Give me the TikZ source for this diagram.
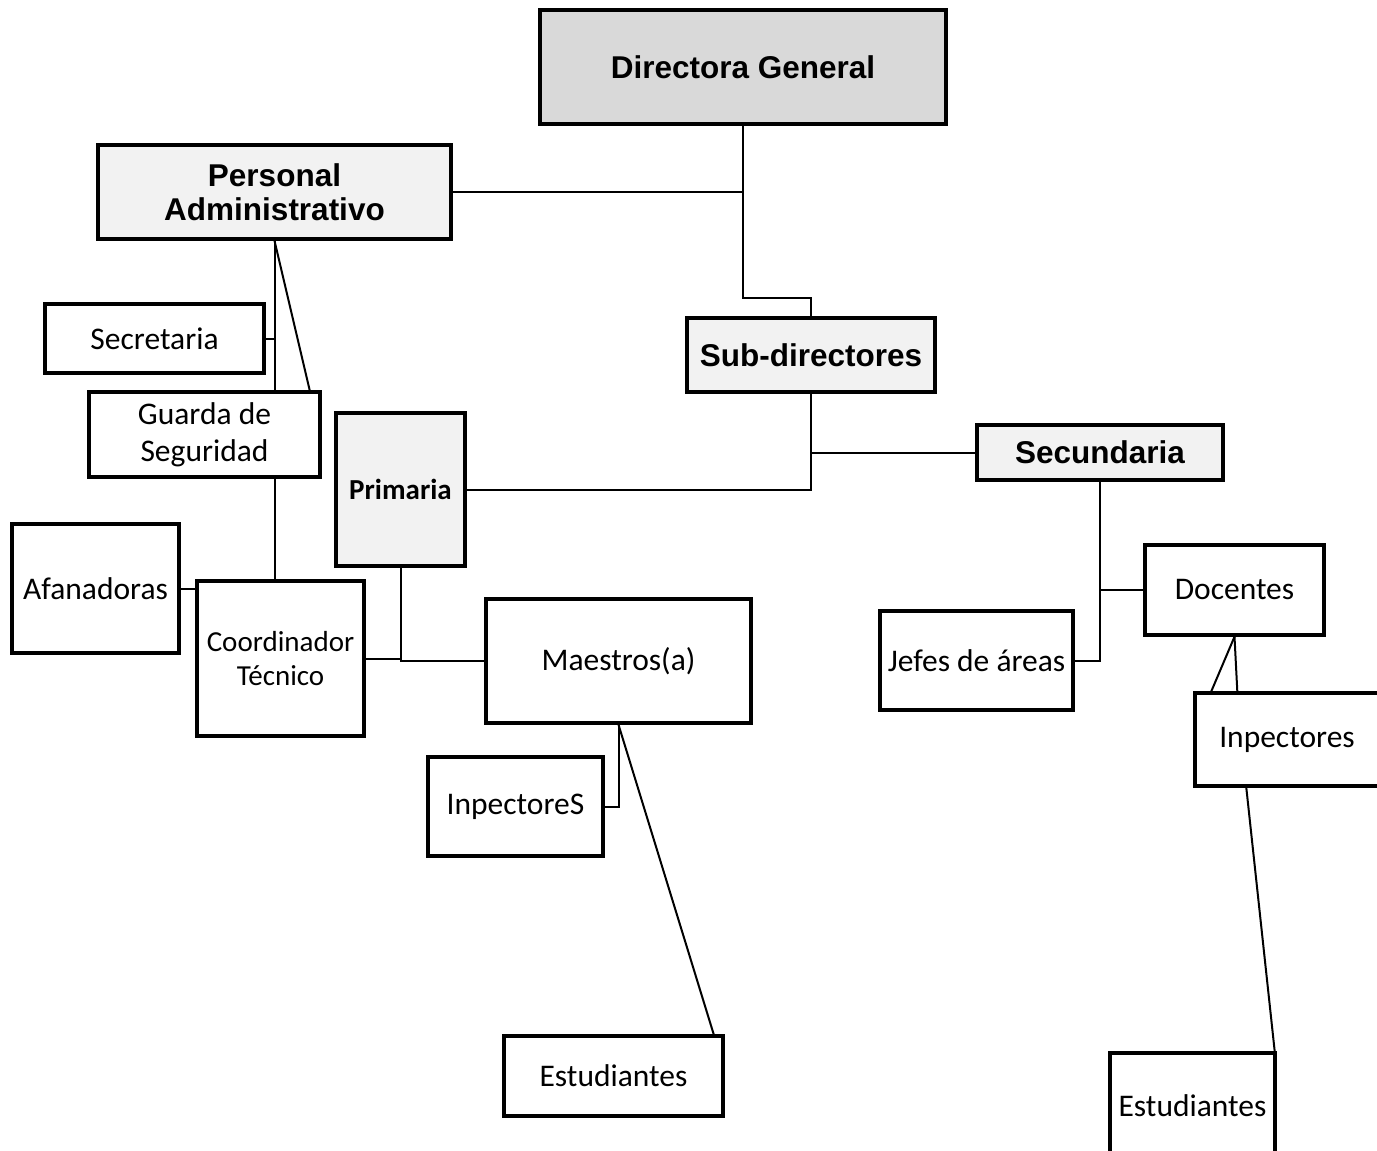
\documentclass[tikz,border=0pt]{standalone}
\usepackage{fontspec}
\setmainfont{Carlito}
\newfontfamily\arialf{Liberation Sans}
\definecolor{dgfill}{HTML}{D9D9D9}
\definecolor{lightfill}{HTML}{F2F2F2}
\begin{document}
\begin{tikzpicture}[x=1pt,y=-1pt,
  box/.style={draw=black, line width=3.4pt, fill=white, inner sep=0pt, align=center,
     font=\fontsize{31.5}{36}\selectfont},
  head/.style={box, fill=lightfill, font=\arialf\bfseries\fontsize{31.5}{34}\selectfont},
  conn/.style={draw=black, line width=2pt}]
\useasboundingbox (0,0) rectangle (1377,1151);
\clip (0,0) rectangle (1377,1151);
\fill[white] (0,0) rectangle (1377,1151);

% nodes
\node[head, fill=dgfill, minimum width=406pt, minimum height=114pt] (dg) at (743,67) {Directora General};
\node[head, minimum width=353pt, minimum height=94pt] (pa) at (274.5,192) {Personal\\Administrativo};
\node[box, minimum width=219pt, minimum height=69pt] (sec) at (154.5,338.5) {Secretaria};
\node[box, minimum width=231pt, minimum height=85pt, font=\fontsize{31.5}{37}\selectfont] (gs) at (204.5,434.5) {Guarda de\\Seguridad};
\node[box, fill=lightfill, minimum width=129pt, minimum height=153pt, font=\bfseries\fontsize{29}{32}\selectfont] (pri) at (400.5,489.5) {Primaria};
\node[box, minimum width=167pt, minimum height=129pt] (afa) at (95.5,588.5) {Afanadoras};
\node[box, minimum width=167pt, minimum height=155pt, font=\fontsize{29}{34}\selectfont] (ct) at (280.5,658.5) {Coordinador\\Técnico};
\node[box, minimum width=265pt, minimum height=124pt] (mae) at (618.5,661) {Maestros(a)};
\node[box, minimum width=175pt, minimum height=99pt] (insL) at (515.5,806.5) {InpectoreS};
\node[box, minimum width=219pt, minimum height=80pt] (estL) at (613.5,1076) {Estudiantes};
\node[head, minimum width=248pt, minimum height=74pt] (sub) at (811,355) {Sub-directores};
\node[head, minimum width=246pt, minimum height=55pt] (scd) at (1100,452.5) {Secundaria};
\node[box, minimum width=179pt, minimum height=90pt] (doc) at (1234.5,590) {Docentes};
\node[box, minimum width=193pt, minimum height=99pt] (jef) at (976.5,660.5) {Jefes de áreas};
\node[box, minimum width=184pt, minimum height=93pt] (insR) at (1287,739.5) {Inpectores};
\node[box, minimum width=165pt, minimum height=106pt] (estR) at (1192.5,1106) {Estudiantes};

\coordinate (j1) at (743,298);

% connectors
\draw[conn] (dg.south) -- (dg.south |- j1) -- (sub.north |- j1) -- (sub.north);
\draw[conn] (pa.east) -- (dg.south |- pa.east);
\draw[conn] (pa.south) -- (pa.south |- gs.north);
\draw[conn] (sec.east) -- (pa.south |- sec.east);
\draw[conn] (pa.south) -- ([xshift=-12pt]gs.north east);
\draw[conn] (pa.south |- gs.south) -- (pa.south |- ct.north);
\draw[conn] (afa.east) -- (ct.west |- afa.east);
\draw[conn] (ct.east) -- (pri.south |- ct.east);
\draw[conn] (pri.south) -- (pri.south |- mae.west) -- (mae.west);
\draw[conn] (sub.south) -- (sub.south |- pri.east) -- (pri.east);
\draw[conn] (sub.south |- scd.west) -- (scd.west);
\draw[conn] (mae.south) -- (mae.south |- insL.east) -- (insL.east);
\draw[conn] (mae.south) -- ([xshift=-11pt]estL.north east);
\draw[conn] (scd.south) -- (scd.south |- jef.east) -- (jef.east);
\draw[conn] (scd.south |- doc.west) -- (doc.west);
\draw[conn] (doc.south) -- ([xshift=18pt]insR.north west);
\draw[conn] (doc.south) -- ([xshift=44pt]insR.north west);
\draw[conn] ([xshift=53pt]insR.south west) -- ([xshift=-2pt]estR.north east);
\end{tikzpicture}
\end{document}
